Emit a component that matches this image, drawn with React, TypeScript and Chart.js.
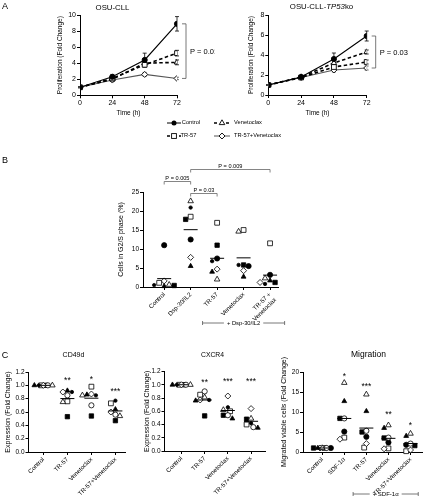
import React, { useEffect, useRef } from "react";
import { Chart, registerables } from "chart.js";

Chart.register(...registerables);

const FONT = "'Liberation Sans', Arial, Helvetica, sans-serif";
Chart.defaults.font.family = FONT;
Chart.defaults.color = "#000";

// ---------------- Panel A : proliferation time course ----------------
const TIME_H = [0, 24, 48, 72];
const A_NAMES = ["Control", "TR-57", "Venetoclax", "TR-57+Venetoclax"];

// OSU-CLL
const A1_CONTROL = [1.0, 2.3, 4.4, 8.9];
const A1_CONTROL_SD = [0.05, 0.3, 0.85, 0.9];
const A1_TR57 = [1.0, 2.1, 3.8, 5.25];
const A1_TR57_SD = [0.05, 0.25, 0.3, 0.35];
const A1_VEN = [1.0, 2.0, 4.0, 4.1];
const A1_VEN_SD = [0.05, 0.2, 0.3, 0.3];
const A1_COMBO = [1.0, 1.9, 2.6, 2.1];
const A1_COMBO_SD = [0.05, 0.15, 0.25, 0.15];

// OSU-CLL-TP53ko
const A2_CONTROL = [1.0, 1.8, 3.6, 5.9];
const A2_CONTROL_SD = [0.05, 0.15, 0.6, 0.5];
const A2_TR57 = [1.0, 1.75, 2.8, 3.3];
const A2_TR57_SD = [0.05, 0.1, 0.3, 0.2];
const A2_VEN = [1.0, 1.8, 3.2, 4.3];
const A2_VEN_SD = [0.05, 0.1, 0.3, 0.2];
const A2_COMBO = [1.0, 1.75, 2.5, 2.7];
const A2_COMBO_SD = [0.05, 0.1, 0.2, 0.2];

// ---------------- Panel B : cells in G2/S phase (%) ----------------
const B_CATEGORIES: (string | string[])[] = ["Control", "Dsp-30/IL2", "TR-57", "Venetoclax", ["TR-57 +", "Venetoclax"]];
const B_FILLED_CIRCLE = [11.0, 12.5, 7.5, 5.5, 3.2];
const B_OPEN_SQUARE = [1.1, 18.5, 16.9, 15.0, 11.5];
const B_FILLED_SQUARE = [0.4, 17.8, 11.0, 5.8, 1.2];
const B_OPEN_TRIANGLE = [0.6, 22.6, 2.0, 14.6, 2.3];
const B_FILLED_TRIANGLE = [0.2, 5.5, 4.0, 2.7, 1.7];
const B_OPEN_DIAMOND = [1.6, 7.8, 4.7, 4.3, 1.2];
const B_SMALL_DOT = [0.5, 20.9, 6.8, 5.8, 0.8];

// ---------------- Panel C : CD49d ----------------
const C_CATEGORIES = ["Control", "TR-57", "Venetoclax", "TR-57+Venetoclax"];
const CD49D_OPEN_DIAMOND = [1.0, 0.9, 0.87, 0.6];
const CD49D_SMALL_DOT = [1.0, 0.9, 0.85, 0.77];
const CD49D_OPEN_CIRCLE = [1.0, 0.85, 0.7, 0.56];
const CD49D_FILLED_TRIANGLE = [1.0, 0.92, 0.86, 0.64];
const CD49D_OPEN_TRIANGLE = [1.0, 0.75, 0.85, 0.54];
const CD49D_OPEN_SQUARE = [1.0, 0.76, 0.98, 0.73];
const CD49D_FILLED_SQUARE = [1.0, 0.53, 0.54, 0.47];
const CD49D_STARS = ["", "**", "*", "***"];
const CD49D_STAR_Y = [0, 1.1, 1.12, 0.94];

// ---------------- Panel C : CXCR4 ----------------
const CXCR4_OPEN_DIAMOND = [1.0, 0.77, 0.83, 0.64];
const CXCR4_SMALL_DOT = [1.0, 0.77, 0.66, 0.42];
const CXCR4_OPEN_CIRCLE = [1.0, 0.9, 0.54, 0.36];
const CXCR4_FILLED_TRIANGLE = [1.0, 0.76, 0.49, 0.35];
const CXCR4_OPEN_TRIANGLE = [1.0, 0.81, 0.62, 0.49];
const CXCR4_OPEN_SQUARE = [1.0, 0.85, 0.6, 0.4];
const CXCR4_FILLED_SQUARE = [1.0, 0.53, 0.54, 0.48];
const CXCR4_STARS = ["", "**", "***", "***"];
const CXCR4_STAR_Y = [0, 1.06, 1.08, 1.08];

// ---------------- Panel C : Migration ----------------
const MIG_CATEGORIES = ["Control", "SDF-1α", "TR-57", "Venetoclax", "TR-57+Venetoclax"];
const MIG_OPEN_TRIANGLE = [1.0, 17.3, 14.4, 6.7, 4.6];
const MIG_FILLED_TRIANGLE = [1.0, 12.7, 10.2, 6.0, 4.0];
const MIG_OPEN_CIRCLE = [1.0, 8.4, 5.3, 3.6, 2.1];
const MIG_FILLED_SQUARE = [1.0, 8.4, 5.0, 3.5, 1.6];
const MIG_FILLED_CIRCLE = [1.0, 5.1, 3.8, 2.4, 1.8];
const MIG_OPEN_DIAMOND = [1.0, 3.2, 2.1, 0.8, 0.5];
const MIG_OPEN_SQUARE = [1.0, 3.6, 1.1, 0.9, 0.2];
const MIG_STARS = ["", "*", "***", "**", "*"];
const MIG_STAR_Y = [0, 19.4, 16.8, 9.8, 7.1];

// ---------------- marker styles ----------------
type MarkerName =
  | "filledCircle" | "openCircle" | "smallDot" | "openSquare" | "filledSquare"
  | "openTriangle" | "filledTriangle" | "openDiamond";
const MARKERS: Record<MarkerName, { style: string; r: number; fill: string }> = {
  filledCircle: { style: "circle", r: 2.6, fill: "#000" },
  openCircle: { style: "circle", r: 2.6, fill: "#fff" },
  smallDot: { style: "circle", r: 1.7, fill: "#000" },
  openSquare: { style: "rect", r: 3.4, fill: "#fff" },
  filledSquare: { style: "rect", r: 3.1, fill: "#000" },
  openTriangle: { style: "triangle", r: 3.2, fill: "#fff" },
  filledTriangle: { style: "triangle", r: 2.8, fill: "#000" },
  openDiamond: { style: "rectRot", r: 3.0, fill: "#fff" },
};

// ---------------- layout helpers ----------------
interface Frame {
  cx: number; cy: number; cw: number; ch: number;
  left: number; top: number; right: number; bottom: number;
  yTitleX: number; titleSize: number; xAxisH: number;
}
function layoutOf(f: Frame) {
  const lh = f.titleSize * 1.2;
  const pl = Math.max(0, f.yTitleX - f.cx - lh / 2);
  return {
    padding: { left: pl, top: f.top - f.cy, right: f.cx + f.cw - f.right, bottom: f.cy + f.ch - f.bottom - f.xAxisH },
    yW: f.left - f.cx - pl,
    xH: f.xAxisH,
  };
}

function swarm(rows: number[][], pxPerUnit: number, catPx: number, gap: number, maxOff: number) {
  const nC = rows[0].length;
  const xs = rows.map(() => new Array(nC).fill(0));
  const cands = [0];
  for (let k = 1; (k * gap) / 2 <= maxOff + 1e-6; k++) cands.push((-k * gap) / 2, (k * gap) / 2);
  for (let c = 0; c < nC; c++) {
    const order = rows.map((_, p) => p).sort((a, b) => rows[b][c] - rows[a][c]);
    const placed: [number, number][] = [];
    for (const p of order) {
      const y = rows[p][c] * pxPerUnit;
      let best = 0;
      let bestD = -1;
      for (const o of cands) {
        const d = placed.reduce((m, [px, py]) => Math.min(m, Math.hypot(px - o, py - y)), Infinity);
        if (d >= gap) { best = o; break; }
        if (d > bestD) { bestD = d; best = o; }
      }
      placed.push([best, y]);
      xs[p][c] = c + best / catPx;
    }
  }
  return xs;
}

const baseOptions = (lay: ReturnType<typeof layoutOf>) => ({
  responsive: false,
  animation: false as const,
  devicePixelRatio: 1,
  events: [] as any[],
  layout: { padding: lay.padding },
  plugins: { legend: { display: false }, tooltip: { enabled: false }, title: { display: false } },
});

// ---------------- error bar plugin ----------------
const errorBarPlugin = {
  id: "errorBars",
  beforeDatasetsDraw(chart: any) {
    const { ctx } = chart;
    const xs = chart.scales.x;
    const ys = chart.scales.y;
    chart.data.datasets.forEach((ds: any) => {
      if (!ds.sd) return;
      ctx.save();
      ctx.strokeStyle = ds.borderColor;
      ctx.lineWidth = 0.8;
      ds.data.forEach((p: any, j: number) => {
        const px = xs.getPixelForValue(p.x);
        const y1 = ys.getPixelForValue(p.y + ds.sd[j]);
        const y2 = ys.getPixelForValue(p.y - ds.sd[j]);
        ctx.beginPath();
        ctx.moveTo(px, y1); ctx.lineTo(px, y2);
        ctx.moveTo(px - 2, y1); ctx.lineTo(px + 2, y1);
        ctx.moveTo(px - 2, y2); ctx.lineTo(px + 2, y2);
        ctx.stroke();
      });
      ctx.restore();
    });
  },
};

function pBracketPlugin(text: string, topVal: number, botVal: number, gapPx: number) {
  return {
    id: "pBracket",
    afterDraw(chart: any) {
      const { ctx, chartArea } = chart;
      const ys = chart.scales.y;
      const x = chartArea.right + gapPx;
      const y1 = ys.getPixelForValue(topVal);
      const y2 = ys.getPixelForValue(botVal);
      ctx.save();
      ctx.strokeStyle = "#555";
      ctx.lineWidth = 0.8;
      ctx.beginPath();
      ctx.moveTo(x - 4, y1); ctx.lineTo(x, y1); ctx.lineTo(x, y2); ctx.lineTo(x - 4, y2);
      ctx.stroke();
      ctx.fillStyle = "#000";
      ctx.font = `7.5px ${FONT}`;
      ctx.textBaseline = "middle";
      ctx.textAlign = "left";
      ctx.fillText(text, x + 4, (y1 + y2) / 2 + 1);
      ctx.restore();
    },
  };
}

interface SeriesDef { name: string; data: number[]; sd: number[]; dash: boolean; color: string; marker: MarkerName; width: number }

function makeLineConfig(frame: Frame, yMax: number, series: SeriesDef[], pText: string, pTop: number, pBot: number) {
  const lay = layoutOf(frame);
  return {
    type: "line" as const,
    data: {
      datasets: series.map((s) => ({
        label: s.name,
        data: TIME_H.map((t, i) => ({ x: t, y: s.data[i] })),
        sd: s.sd,
        borderColor: s.color,
        borderWidth: s.width,
        borderDash: s.dash ? [3.5, 2.5] : [],
        pointStyle: MARKERS[s.marker].style,
        pointRadius: MARKERS[s.marker].r,
        pointBackgroundColor: MARKERS[s.marker].fill,
        pointBorderColor: "#000",
        pointBorderWidth: 0.9,
        tension: 0,
      })),
    },
    options: {
      ...baseOptions(lay),
      scales: {
        x: {
          type: "linear",
          min: 0,
          max: 72,
          afterBuildTicks: (s: any) => { s.ticks = TIME_H.map((v) => ({ value: v })); },
          afterFit: (s: any) => { s.height = lay.xH; },
          grid: { display: true, drawOnChartArea: false, tickLength: 3, tickColor: "#000", color: "#000" },
          border: { display: true, color: "#000", width: 1 },
          ticks: { font: { size: 7 }, padding: 1, color: "#000", maxRotation: 0 },
          title: { display: true, text: "Time (h)", font: { size: 6.5 }, padding: 0, color: "#000" },
        },
        y: {
          type: "linear",
          min: 0,
          max: yMax,
          ticks: { stepSize: 2, font: { size: 7 }, padding: 1, color: "#000" },
          afterFit: (s: any) => { s.width = lay.yW; },
          grid: { display: true, drawOnChartArea: false, tickLength: 3, tickColor: "#000", color: "#000" },
          border: { display: true, color: "#000", width: 1 },
          title: { display: true, text: "Proliferation (Fold Change)", font: { size: 6.5 }, padding: 0, color: "#000" },
        },
      },
    },
    plugins: [errorBarPlugin, pBracketPlugin(pText, pTop, pBot, 9)],
  };
}

interface ScatterDef {
  frame: Frame;
  cats: (string | string[])[];
  patients: MarkerName[];
  rows: number[][];
  xMin: number; xMax: number; yMax: number; yStep: number; decimals: number;
  yTitle: string; tickSize: number; labelSize: number; gap: number; maxOff: number;
  stars?: string[]; starY?: number[];
  extra?: any[];
}

function starsPlugin(stars: string[], starY: number[]) {
  return {
    id: "stars",
    afterDatasetsDraw(chart: any) {
      const { ctx } = chart;
      ctx.save();
      ctx.fillStyle = "#000";
      const size = 8.5;
      ctx.font = `${size}px ${FONT}`;
      ctx.textAlign = "center";
      ctx.textBaseline = "alphabetic";
      stars.forEach((s, i) => {
        if (!s) return;
        const x = chart.scales.x.getPixelForValue(i);
        const y = chart.scales.y.getPixelForValue(starY[i]);
        ctx.fillText(s, x, y + size * 0.55);
      });
      ctx.restore();
    },
  };
}

function groupLinePlugin(text: string, fromCat: number, toCat: number, below: number, size: number) {
  return {
    id: "groupLine",
    afterDraw(chart: any) {
      const { ctx, chartArea } = chart;
      const xs = chart.scales.x;
      const x1 = xs.getPixelForValue(fromCat);
      const x2 = xs.getPixelForValue(toCat);
      const y = chartArea.bottom + below;
      ctx.save();
      ctx.font = `${size}px ${FONT}`;
      const w = ctx.measureText(text).width;
      const mid = (x1 + x2) / 2;
      ctx.strokeStyle = "#555";
      ctx.lineWidth = 0.8;
      ctx.beginPath();
      ctx.moveTo(x1, y - 2); ctx.lineTo(x1, y + 2);
      ctx.moveTo(x1, y); ctx.lineTo(mid - w / 2 - 3, y);
      ctx.moveTo(mid + w / 2 + 3, y); ctx.lineTo(x2, y);
      ctx.moveTo(x2, y - 2); ctx.lineTo(x2, y + 2);
      ctx.stroke();
      ctx.fillStyle = "#000";
      ctx.textAlign = "center";
      ctx.textBaseline = "middle";
      ctx.fillText(text, mid, y + 0.5);
      ctx.restore();
    },
  };
}

const B_BRACKETS = [
  { a: 0, b: 1, text: "P = 0.005", level: 1 },
  { a: 1, b: 2, text: "P = 0.03", level: 0 },
  { a: 1, b: 4, text: "P = 0.009", level: 2 },
];
const bBracketPlugin = {
  id: "bBrackets",
  afterDraw(chart: any) {
    const { ctx, chartArea } = chart;
    const xs = chart.scales.x;
    ctx.save();
    ctx.strokeStyle = "#666";
    ctx.lineWidth = 0.8;
    ctx.fillStyle = "#000";
    ctx.font = `5.6px ${FONT}`;
    ctx.textAlign = "center";
    ctx.textBaseline = "alphabetic";
    B_BRACKETS.forEach((br) => {
      const x1 = xs.getPixelForValue(br.a);
      const x2 = xs.getPixelForValue(br.b);
      const y = chartArea.top + 1.5 - br.level * 12;
      ctx.beginPath();
      ctx.moveTo(x1, y + 3); ctx.lineTo(x1, y); ctx.lineTo(x2, y); ctx.lineTo(x2, y + 3);
      ctx.stroke();
      ctx.fillText(br.text, (x1 + x2) / 2, y - 1.5);
    });
    ctx.restore();
  },
};

function makeScatterConfig(d: ScatterDef) {
  const lay = layoutOf(d.frame);
  const pxPerUnit = (d.frame.bottom - d.frame.top) / d.yMax;
  const catPx = (d.frame.right - d.frame.left) / (d.xMax - d.xMin);
  const xs = swarm(d.rows, pxPerUnit, catPx, d.gap, d.maxOff);
  const means = d.cats.map((_, c) => d.rows.reduce((s, r) => s + r[c], 0) / d.rows.length);
  const datasets: any[] = [
    {
      type: "scatter",
      label: "mean",
      data: means.map((m, i) => ({ x: i, y: m })),
      pointStyle: "line",
      pointRadius: 7,
      borderColor: "#000",
      borderWidth: 1,
      backgroundColor: "#000",
    },
    ...d.patients.map((p, pi) => ({
      type: "scatter",
      label: p,
      data: d.rows[pi].map((v, c) => ({ x: xs[pi][c], y: v })),
      pointStyle: MARKERS[p].style,
      pointRadius: MARKERS[p].r,
      backgroundColor: MARKERS[p].fill,
      borderColor: "#000",
      borderWidth: 0.8,
    })),
  ];
  const plugins: any[] = [];
  if (d.stars && d.starY) plugins.push(starsPlugin(d.stars, d.starY));
  if (d.extra) plugins.push(...d.extra);
  return {
    type: "scatter" as const,
    data: { datasets },
    options: {
      ...baseOptions(lay),
      clip: false as const,
      scales: {
        x: {
          type: "linear",
          min: d.xMin,
          max: d.xMax,
          afterBuildTicks: (s: any) => { s.ticks = d.cats.map((_, i) => ({ value: i })); },
          afterFit: (s: any) => { s.height = lay.xH; },
          grid: { display: true, drawOnChartArea: false, tickLength: 3, tickColor: "#000", color: "#000" },
          border: { display: true, color: "#000", width: 1 },
          ticks: {
            font: { size: d.labelSize },
            padding: 1,
            color: "#000",
            minRotation: 45,
            maxRotation: 45,
            autoSkip: false,
            callback: (_v: any, i: number) => d.cats[i],
          },
        },
        y: {
          type: "linear",
          min: 0,
          max: d.yMax,
          ticks: {
            stepSize: d.yStep,
            font: { size: d.tickSize },
            padding: 1,
            color: "#000",
            callback: (v: any) => Number(v).toFixed(d.decimals),
          },
          afterFit: (s: any) => { s.width = lay.yW; },
          grid: { display: true, drawOnChartArea: false, tickLength: 3, tickColor: "#000", color: "#000" },
          border: { display: true, color: "#000", width: 1 },
          title: { display: true, text: d.yTitle, font: { size: 7 }, padding: 0, color: "#000" },
        },
      },
    },
    plugins,
  };
}

// ---------------- frames ----------------
const FRAME_A1: Frame = { cx: 0, cy: 0, cw: 215, ch: 130, left: 80, top: 15, right: 177, bottom: 95.3, yTitleX: 60, titleSize: 6.5, xAxisH: 21.6 };
const FRAME_A2: Frame = { cx: 215, cy: 0, cw: 215, ch: 130, left: 268.3, top: 15, right: 366.7, bottom: 95, yTitleX: 251, titleSize: 6.5, xAxisH: 21.9 };
const FRAME_B: Frame = { cx: 95, cy: 150, cw: 200, ch: 185, left: 143, top: 192, right: 278, bottom: 287, yTitleX: 121, titleSize: 7, xAxisH: 47 };
const FRAME_C1: Frame = { cx: 0, cy: 345, cw: 140, ch: 155, left: 28.5, top: 372, right: 125, bottom: 452, yTitleX: 8.5, titleSize: 7, xAxisH: 48 };
const FRAME_C2: Frame = { cx: 140, cy: 345, cw: 140, ch: 155, left: 164.5, top: 371.5, right: 265, bottom: 451, yTitleX: 147.5, titleSize: 7, xAxisH: 49 };
const FRAME_C3: Frame = { cx: 280, cy: 345, cw: 150, ch: 155, left: 303, top: 372, right: 427, bottom: 452, yTitleX: 284.5, titleSize: 7, xAxisH: 48 };

const A_STYLE: { dash: boolean; color: string; marker: MarkerName; width: number }[] = [
  { dash: false, color: "#000", marker: "filledCircle", width: 1.1 },
  { dash: true, color: "#000", marker: "openSquare", width: 1.6 },
  { dash: true, color: "#000", marker: "openTriangle", width: 1.6 },
  { dash: false, color: "#555", marker: "openDiamond", width: 1.1 },
];

function configA1() {
  const data = [A1_CONTROL, A1_TR57, A1_VEN, A1_COMBO];
  const sds = [A1_CONTROL_SD, A1_TR57_SD, A1_VEN_SD, A1_COMBO_SD];
  return makeLineConfig(FRAME_A1, 10, A_NAMES.map((n, i) => ({ name: n, data: data[i], sd: sds[i], ...A_STYLE[i] })), "P = 0.01", A1_CONTROL[3], A1_COMBO[3]);
}
function configA2() {
  const data = [A2_CONTROL, A2_TR57, A2_VEN, A2_COMBO];
  const sds = [A2_CONTROL_SD, A2_TR57_SD, A2_VEN_SD, A2_COMBO_SD];
  return makeLineConfig(FRAME_A2, 8, A_NAMES.map((n, i) => ({ name: n, data: data[i], sd: sds[i], ...A_STYLE[i] })), "P = 0.03", A2_CONTROL[3], A2_COMBO[3]);
}
function configB() {
  return makeScatterConfig({
    frame: FRAME_B,
    cats: B_CATEGORIES,
    patients: ["filledCircle", "openSquare", "filledSquare", "openTriangle", "filledTriangle", "openDiamond", "smallDot"],
    rows: [B_FILLED_CIRCLE, B_OPEN_SQUARE, B_FILLED_SQUARE, B_OPEN_TRIANGLE, B_FILLED_TRIANGLE, B_OPEN_DIAMOND, B_SMALL_DOT],
    xMin: -0.8, xMax: 4.3, yMax: 25, yStep: 5, decimals: 0,
    yTitle: "Cells in G2/S phase (%)", tickSize: 6.5, labelSize: 6.2, gap: 5, maxOff: 12,
    extra: [bBracketPlugin, groupLinePlugin("+ Dsp-30/IL2", 1.45, 4.55, 36, 5.8)],
  });
}
const C_PATIENTS: MarkerName[] = ["openDiamond", "smallDot", "openCircle", "filledTriangle", "openTriangle", "openSquare", "filledSquare"];
function configC1() {
  return makeScatterConfig({
    frame: FRAME_C1,
    cats: C_CATEGORIES,
    patients: C_PATIENTS,
    rows: [CD49D_OPEN_DIAMOND, CD49D_SMALL_DOT, CD49D_OPEN_CIRCLE, CD49D_FILLED_TRIANGLE, CD49D_OPEN_TRIANGLE, CD49D_OPEN_SQUARE, CD49D_FILLED_SQUARE],
    xMin: -0.62, xMax: 3.4, yMax: 1.2, yStep: 0.2, decimals: 1,
    yTitle: "Expression (Fold Change)", tickSize: 6.5, labelSize: 6.2, gap: 4.5, maxOff: 9,
    stars: CD49D_STARS, starY: CD49D_STAR_Y,
  });
}
function configC2() {
  return makeScatterConfig({
    frame: FRAME_C2,
    cats: C_CATEGORIES,
    patients: C_PATIENTS,
    rows: [CXCR4_OPEN_DIAMOND, CXCR4_SMALL_DOT, CXCR4_OPEN_CIRCLE, CXCR4_FILLED_TRIANGLE, CXCR4_OPEN_TRIANGLE, CXCR4_OPEN_SQUARE, CXCR4_FILLED_SQUARE],
    xMin: -0.73, xMax: 3.6, yMax: 1.2, yStep: 0.2, decimals: 1,
    yTitle: "Expression (Fold Change)", tickSize: 6.5, labelSize: 6.2, gap: 4.5, maxOff: 9,
    stars: CXCR4_STARS, starY: CXCR4_STAR_Y,
  });
}
function configC3() {
  return makeScatterConfig({
    frame: FRAME_C3,
    cats: MIG_CATEGORIES,
    patients: ["openTriangle", "filledTriangle", "openCircle", "filledSquare", "filledCircle", "openDiamond", "openSquare"],
    rows: [MIG_OPEN_TRIANGLE, MIG_FILLED_TRIANGLE, MIG_OPEN_CIRCLE, MIG_FILLED_SQUARE, MIG_FILLED_CIRCLE, MIG_OPEN_DIAMOND, MIG_OPEN_SQUARE],
    xMin: -0.87, xMax: 4.52, yMax: 20, yStep: 5, decimals: 0,
    yTitle: "Migrated viable cells (Fold Change)", tickSize: 6.5, labelSize: 6.2, gap: 4.5, maxOff: 9,
    stars: MIG_STARS, starY: MIG_STAR_Y,
    extra: [groupLinePlugin("+ SDF-1α", 1.4, 4.35, 42, 6)],
  });
}

function ChartCanvas({ frame, make }: { frame: Frame; make: () => any }) {
  const ref = useRef<HTMLCanvasElement>(null);
  useEffect(() => {
    const chart = new Chart(ref.current as HTMLCanvasElement, make());
    return () => chart.destroy();
  }, []);
  return (
    <canvas
      ref={ref}
      width={frame.cw}
      height={frame.ch}
      style={{ position: "absolute", left: frame.cx, top: frame.cy, width: frame.cw, height: frame.ch }}
    />
  );
}

function Label({ x, y, size, children, weight }: { x: number; y: number; size: number; children: any; weight?: number }) {
  return (
    <div
      style={{
        position: "absolute",
        left: x,
        top: y,
        transform: "translate(-50%, -50%)",
        fontSize: size,
        lineHeight: 1,
        whiteSpace: "nowrap",
        fontWeight: weight ?? 400,
        color: "#000",
      }}
    >
      {children}
    </div>
  );
}

function Swatch({ x, y, w, kind }: { x: number; y: number; w: number; kind: number }) {
  const st = A_STYLE[kind];
  const c = w / 2;
  let marker: any = null;
  if (st.marker === "filledCircle") marker = <circle cx={c} cy={4} r={2.5} fill="#000" />;
  if (st.marker === "openSquare") marker = <rect x={c - 2.4} y={1.6} width={4.8} height={4.8} fill="#fff" stroke="#000" strokeWidth={0.9} />;
  if (st.marker === "openTriangle") marker = <polygon points={`${c},0.8 ${c + 2.8},5.6 ${c - 2.8},5.6`} fill="#fff" stroke="#000" strokeWidth={0.9} />;
  if (st.marker === "openDiamond") marker = <polygon points={`${c},1 ${c + 3},4 ${c},7 ${c - 3},4`} fill="#fff" stroke="#000" strokeWidth={0.9} />;
  return (
    <svg width={w} height={8} style={{ position: "absolute", left: x, top: y - 4 }}>
      <line x1={0} y1={4} x2={w} y2={4} stroke={st.color} strokeWidth={st.dash ? 1.4 : 1} strokeDasharray={st.dash ? "3 3" : undefined} />
      {marker}
    </svg>
  );
}

export default function App() {
  return (
    <div style={{ position: "fixed", left: 0, top: 0, width: 430, height: 500, background: "#fff", overflow: "hidden", fontFamily: FONT }}>
      <ChartCanvas frame={FRAME_A1} make={configA1} />
      <ChartCanvas frame={FRAME_A2} make={configA2} />
      <ChartCanvas frame={FRAME_B} make={configB} />
      <ChartCanvas frame={FRAME_C1} make={configC1} />
      <ChartCanvas frame={FRAME_C2} make={configC2} />
      <ChartCanvas frame={FRAME_C3} make={configC3} />

      <Label x={5} y={6} size={9}>A</Label>
      <Label x={5} y={160} size={9}>B</Label>
      <Label x={5} y={355} size={9}>C</Label>

      <Label x={112.5} y={7.5} size={7.8}>OSU-CLL</Label>
      <Label x={321.5} y={6.5} size={7.8}>
        OSU-CLL-<i>TP53</i>ko
      </Label>

      <Swatch x={167} y={123} w={14} kind={0} />
      <Label x={191} y={123} size={5.7}>{A_NAMES[0]}</Label>
      <Swatch x={167} y={136} w={14} kind={1} />
      <Label x={188.5} y={136} size={5.7}>{A_NAMES[1]}</Label>
      <Swatch x={214} y={123} w={16} kind={2} />
      <Label x={248} y={123} size={5.7}>{A_NAMES[2]}</Label>
      <Swatch x={214} y={136} w={16} kind={3} />
      <Label x={257.5} y={136} size={5.7}>{A_NAMES[3]}</Label>

      <Label x={73.5} y={353.5} size={7}>CD49d</Label>
      <Label x={212.5} y={355} size={6.8}>CXCR4</Label>
      <Label x={368.5} y={353.5} size={8.5}>Migration</Label>
    </div>
  );
}
